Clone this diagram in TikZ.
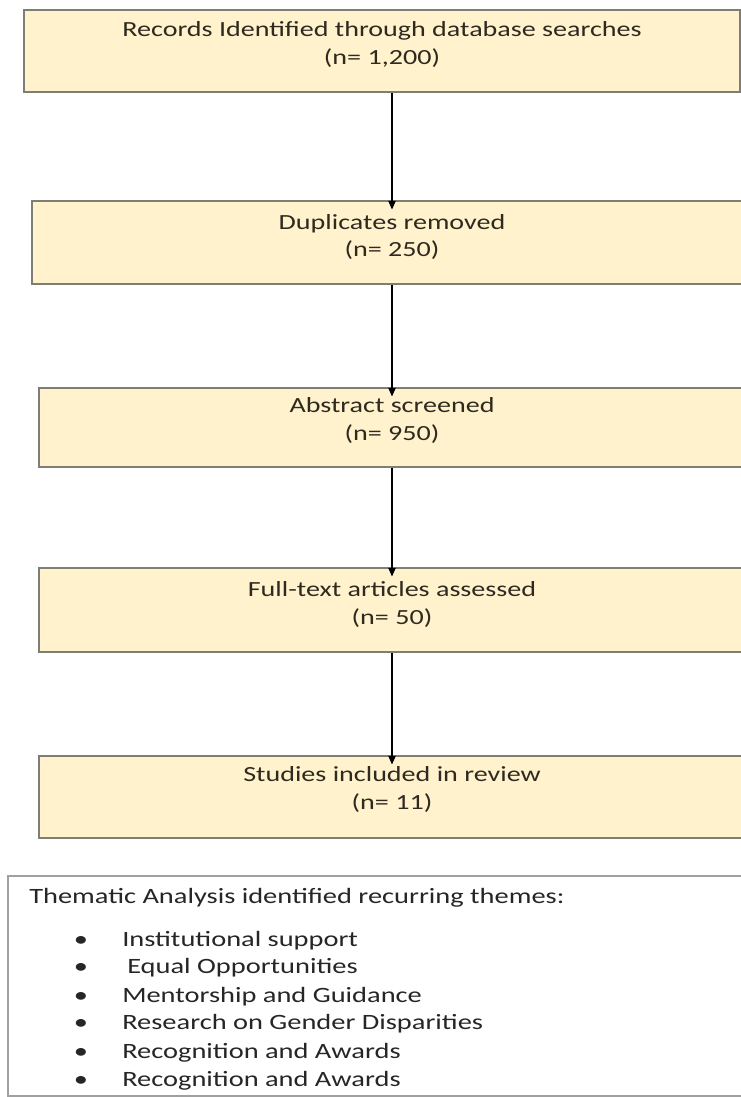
\documentclass[tikz,border=0pt]{standalone}
\usepackage{fontspec}
\setmainfont{Carlito}[FakeStretch=1.3]
\usetikzlibrary{arrows.meta}
\definecolor{boxfill}{HTML}{FFF2CC}
\definecolor{boxline}{HTML}{7E7E76}
\definecolor{txt}{HTML}{2E2A20}
\definecolor{themeline}{HTML}{A0A0A0}
\definecolor{themetxt}{HTML}{262626}
\begin{document}
\begin{tikzpicture}[x=0.75pt,y=-0.75pt,
  flowbox/.style={draw=boxline, line width=1.2pt, fill=boxfill, inner sep=0pt},
  themebox/.style={draw=themeline, line width=0.9pt, fill=white, inner sep=0pt},
  lbl/.style={text=txt, font=\fontsize{16.2pt}{21pt}\selectfont, inner sep=0pt, anchor=base},
  item/.style={text=themetxt, font=\fontsize{16.4pt}{20pt}\selectfont, inner sep=0pt, anchor=base west},
  bul/.style={text=themetxt, font=\fontsize{16.4pt}{20pt}\selectfont, inner sep=0pt, anchor=base},
  arr/.style={-{Triangle[length=6.5pt,width=5.5pt]}, line width=0.9pt, black},
]
\useasboundingbox (0,0) rectangle (741,1097);
\begin{scope}
\clip (0,0) rectangle (741,1097);
\fill[white] (0,0) rectangle (741,1097);

\node[flowbox, minimum width=537pt, minimum height=61.5pt] (b1) at (382,51) {};
\node[flowbox, minimum width=546pt, minimum height=62.25pt] (b2) at (396,242.5) {};
\node[flowbox, minimum width=540.75pt, minimum height=59.25pt] (b3) at (399.5,427.5) {};
\node[flowbox, minimum width=540.75pt, minimum height=63pt] (b4) at (399.5,610) {};
\node[flowbox, minimum width=540.75pt, minimum height=61.5pt] (b5) at (399.5,797) {};
\node[themebox, minimum width=571.5pt, minimum height=165pt] (th) at (389,986) {};

\node[lbl] (t1a) at (382,36) {Records Identified through database searches};
\node[lbl] (t1b) at (382,64) {(n= 1,200)};
\node[lbl] (t2a) at (392,229) {Duplicates removed};
\node[lbl] (t2b) at (392,256) {(n= 250)};
\node[lbl] (t3a) at (392,412) {Abstract screened};
\node[lbl] (t3b) at (392,440) {(n= 950)};
\node[lbl] (t4a) at (392,596) {Full-text articles assessed};
\node[lbl] (t4b) at (392,624) {(n= 50)};
\node[lbl] (t5a) at (392,781) {Studies included in review};
\node[lbl] (t5b) at (392,809) {(n= 11)};

\coordinate (ax) at (392,0);
\draw[arr] (b1.south -| ax) -- ([yshift=-7pt]b2.north -| ax);
\draw[arr] (b2.south -| ax) -- ([yshift=-7pt]b3.north -| ax);
\draw[arr] (b3.south -| ax) -- ([yshift=-7pt]b4.north -| ax);
\draw[arr] (b4.south -| ax) -- ([yshift=-7pt]b5.north -| ax);

\node[item] (ttl) at (29,903) {Thematic Analysis identified recurring themes:};
\node[bul] (u1) at (81,946) {•};
\node[bul] (u2) at (81,973) {•};
\node[bul] (u3) at (81,1002) {•};
\node[bul] (u4) at (81,1029) {•};
\node[bul] (u5) at (81,1058) {•};
\node[bul] (u6) at (81,1086) {•};
\node[item] (i1) at (122,946) {Institutional support};
\node[item] (i2) at (127,973) {Equal Opportunities};
\node[item] (i3) at (122,1002) {Mentorship and Guidance};
\node[item] (i4) at (122,1029) {Research on Gender Disparities};
\node[item] (i5) at (122,1058) {Recognition and Awards};
\node[item] (i6) at (122,1086) {Recognition and Awards};
\end{scope}
\end{tikzpicture}
\end{document}
